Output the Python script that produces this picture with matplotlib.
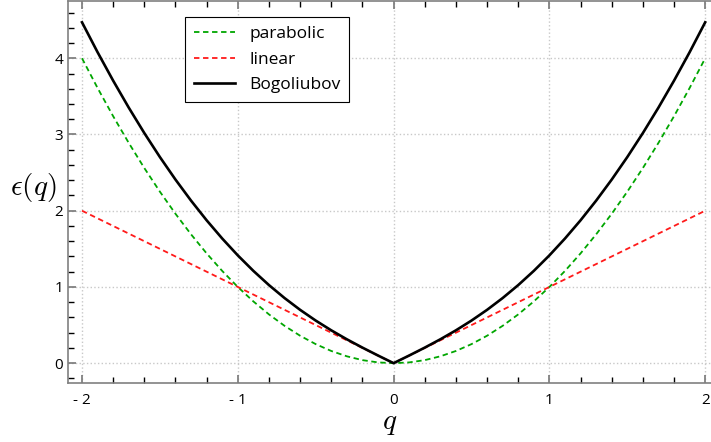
import numpy as np
import matplotlib.pyplot as plt

# dispersion values, q >= 0 half (the chart is symmetric)
q_half = [0.0, 0.1, 0.2, 0.3, 0.4, 0.5, 0.6, 0.7, 0.8, 0.9, 1.0,
          1.1, 1.2, 1.3, 1.4, 1.5, 1.6, 1.7, 1.8, 1.9, 2.0]
parabolic_half = [0.0, 0.01, 0.04, 0.09, 0.16, 0.25, 0.36, 0.49, 0.64, 0.81, 1.0,
                  1.21, 1.44, 1.69, 1.96, 2.25, 2.56, 2.89, 3.24, 3.61, 4.0]
linear_half = [0.0, 0.1, 0.2, 0.3, 0.4, 0.5, 0.6, 0.7, 0.8, 0.9, 1.0,
               1.1, 1.2, 1.3, 1.4, 1.5, 1.6, 1.7, 1.8, 1.9, 2.0]
bogoliubov_half = [0.0, 0.1005, 0.204, 0.3132, 0.4308, 0.559, 0.6997, 0.8545, 1.0245, 1.2108, 1.4142,
                   1.6353, 1.8744, 2.1322, 2.4087, 2.7042, 3.0189, 3.3529, 3.7064, 4.0794, 4.4721]

x_ticks = [-2, -1, 0, 1, 2]
x_tick_labels = ["- 2", "- 1", "0", "1", "2"]
y_ticks = [0, 1, 2, 3, 4]


def mirror(vals, neg=False):
    vals = np.array(vals)
    left = -vals[::-1] if neg else vals[::-1]
    return np.concatenate([left[:-1], vals])


q = mirror(q_half, neg=True)
parabolic = mirror(parabolic_half)
linear = mirror(linear_half)
bogoliubov = mirror(bogoliubov_half)

plt.rcParams["font.family"] = ["Open Sans", "DejaVu Sans"]
plt.rcParams["mathtext.fontset"] = "cm"

fig = plt.figure(figsize=(7.11, 4.42), dpi=100)
ax = fig.add_axes([0.0956, 0.1335, 0.905, 0.864])

ax.plot(q, parabolic, "--", color="#00a600", lw=1.3, dashes=(3, 2), label="parabolic")
ax.plot(q, linear, "--", color="#ff1a1a", lw=1.3, dashes=(3, 2), label="linear")
ax.plot(q, bogoliubov, "-", color="black", lw=1.9, label="Bogoliubov")

ax.set_xlim(-2.09, 2.04)
ax.set_ylim(-0.26, 4.75)
ax.set_xticks(x_ticks)
ax.set_xticklabels(x_tick_labels)
ax.set_yticks(y_ticks)
ax.set_xticks(np.arange(-2.0, 2.01, 0.2), minor=True)
ax.set_yticks(np.arange(-0.2, 4.71, 0.2), minor=True)
ax.tick_params(which="both", direction="in", top=True, right=False, labelsize=11,
               colors="black")
ax.tick_params(which="major", length=6, width=1.2, color="#777777")
ax.tick_params(which="minor", length=4, width=1.0, color="black")
ax.tick_params(axis="x", pad=7)

for s in ["left", "bottom", "top"]:
    ax.spines[s].set_color("#808080")
    ax.spines[s].set_linewidth(1.2)
ax.spines["right"].set_visible(False)

ax.grid(True, which="major", color="#c8c8c8", linestyle=":", lw=1.0)

ax.set_xlabel("$q$", fontsize=21, labelpad=0)
ax.set_ylabel(r"$\epsilon(q)$", fontsize=21, rotation=0, va="center", ha="center")
ax.yaxis.set_label_coords(-0.054, 0.513)

leg = ax.legend(loc="upper left", bbox_to_anchor=(0.182, 0.958), fontsize=12.5,
                fancybox=False, framealpha=1, edgecolor="black", handlelength=2.4,
                borderpad=0.5, labelspacing=0.55, borderaxespad=0)
leg.get_frame().set_linewidth(0.8)

fig.savefig("out.png", dpi=100)
